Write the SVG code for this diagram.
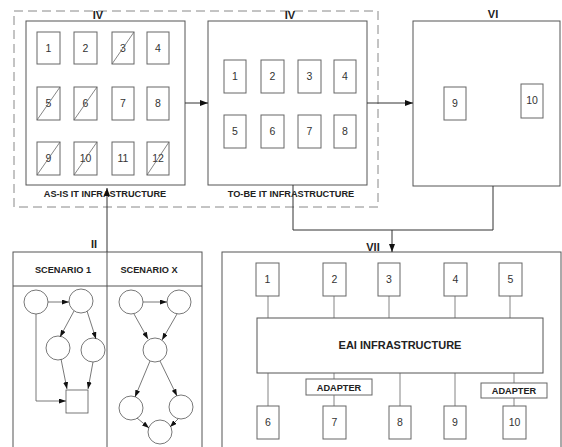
<svg xmlns="http://www.w3.org/2000/svg" width="562" height="447" viewBox="0 0 562 447">
<defs>
<marker id="ah" viewBox="0 0 8 6" refX="8" refY="3" markerWidth="8" markerHeight="6" markerUnits="userSpaceOnUse" orient="auto"><path d="M0,0 L8,3 L0,6 z" fill="#111"/></marker>
<marker id="sh" viewBox="0 0 7 5" refX="7" refY="2.5" markerWidth="7" markerHeight="5" markerUnits="userSpaceOnUse" orient="auto"><path d="M0,0 L7,2.5 L0,5 z" fill="#111"/></marker>
<style>
.big{fill:#fff;stroke:#555;stroke-width:1}
.sm{fill:#fff;stroke:#666;stroke-width:1}
.dg{stroke:#666;stroke-width:0.8}
.num{font-family:"Liberation Sans",Arial,sans-serif;font-size:10.5px;fill:#333;text-anchor:middle}
.lbl{font-family:"Liberation Sans",Arial,sans-serif;font-size:9.2px;font-weight:bold;fill:#222;text-anchor:middle}
.rom{font-family:"Liberation Sans",Arial,sans-serif;font-size:11px;font-weight:bold;fill:#222;text-anchor:middle}
.cn{fill:none;stroke:#333;stroke-width:1}
.sc{fill:none;stroke:#555;stroke-width:0.8}
.ci{fill:#fff;stroke:#555;stroke-width:0.8}
</style>
</defs>
<rect x="14" y="11" width="364" height="196" fill="none" stroke="#888" stroke-width="1" stroke-dasharray="9,5"/>

<g id="asis">
<rect class="big" x="26" y="21" width="159" height="164"/>
<text class="rom" x="98" y="19">IV</text>
<g>
<rect class="sm" x="37" y="32" width="23" height="32"/><text class="num" x="48.5" y="51.5">1</text>
<rect class="sm" x="74" y="32" width="23" height="32"/><text class="num" x="85.5" y="51.5">2</text>
<rect class="sm" x="112" y="32" width="22" height="32"/><text class="num" x="123" y="51.5">3</text><line class="dg" x1="112" y1="64" x2="134" y2="32"/>
<rect class="sm" x="147" y="32" width="22" height="32"/><text class="num" x="158" y="51.5">4</text>
<rect class="sm" x="37" y="87" width="23" height="33"/><text class="num" x="48.5" y="107">5</text><line class="dg" x1="37" y1="120" x2="60" y2="87"/>
<rect class="sm" x="74" y="87" width="23" height="33"/><text class="num" x="85.5" y="107">6</text><line class="dg" x1="74" y1="120" x2="97" y2="87"/>
<rect class="sm" x="112" y="87" width="22" height="33"/><text class="num" x="123" y="107">7</text>
<rect class="sm" x="147" y="87" width="22" height="33"/><text class="num" x="158" y="107">8</text>
<rect class="sm" x="37" y="142" width="23" height="33"/><text class="num" x="48.5" y="162">9</text><line class="dg" x1="37" y1="175" x2="60" y2="142"/>
<rect class="sm" x="74" y="142" width="23" height="33"/><text class="num" x="85.5" y="162">10</text><line class="dg" x1="74" y1="175" x2="97" y2="142"/>
<rect class="sm" x="112" y="142" width="22" height="33"/><text class="num" x="123" y="162">11</text>
<rect class="sm" x="147" y="142" width="22" height="33"/><text class="num" x="158" y="162">12</text><line class="dg" x1="147" y1="175" x2="169" y2="142"/>
</g>
<text class="lbl" x="105" y="197">AS-IS IT INFRASTRUCTURE</text>
</g>

<g id="tobe">
<rect class="big" x="208" y="21" width="159" height="164"/>
<text class="rom" x="290" y="19">IV</text>
<rect class="sm" x="224" y="60" width="22" height="33"/><text class="num" x="235" y="80">1</text>
<rect class="sm" x="261" y="60" width="23" height="33"/><text class="num" x="272.5" y="80">2</text>
<rect class="sm" x="298" y="60" width="23" height="33"/><text class="num" x="309.5" y="80">3</text>
<rect class="sm" x="334" y="60" width="22" height="33"/><text class="num" x="345" y="80">4</text>
<rect class="sm" x="224" y="115" width="22" height="33"/><text class="num" x="235" y="135">5</text>
<rect class="sm" x="261" y="115" width="23" height="33"/><text class="num" x="272.5" y="135">6</text>
<rect class="sm" x="298" y="115" width="23" height="33"/><text class="num" x="309.5" y="135">7</text>
<rect class="sm" x="334" y="115" width="22" height="33"/><text class="num" x="345" y="135">8</text>
<text class="lbl" x="291" y="197">TO-BE IT INFRASTRUCTURE</text>
</g>

<g id="vi">
<rect class="big" x="413" y="21" width="147" height="165"/>
<text class="rom" x="493" y="18">VI</text>
<rect class="sm" x="444" y="87" width="22" height="33"/><text class="num" x="455" y="107">9</text>
<rect class="sm" x="521" y="84" width="22" height="34"/><text class="num" x="532" y="104">10</text>
</g>

<g id="ii">
<rect class="big" x="13" y="252" width="189" height="200"/>
<line class="big" x1="107" y1="252" x2="107" y2="447"/>
<line class="big" x1="13" y1="286" x2="202" y2="286"/>
<text class="rom" x="94" y="248">II</text>
<text class="lbl" x="63" y="273">SCENARIO 1</text>
<text class="lbl" x="149" y="273">SCENARIO X</text>
<g id="scen1">
<circle class="ci" cx="36" cy="302" r="12"/>
<circle class="ci" cx="81" cy="301" r="12"/>
<circle class="ci" cx="58" cy="348" r="12"/>
<circle class="ci" cx="93" cy="350" r="12"/>
<rect class="ci" x="66" y="390" width="22" height="23"/>
<line class="sc" x1="48" y1="302" x2="69" y2="302" marker-end="url(#sh)"/>
<line class="sc" x1="74" y1="311" x2="60" y2="337" marker-end="url(#sh)"/>
<line class="sc" x1="87" y1="311" x2="96" y2="339" marker-end="url(#sh)"/>
<line class="sc" x1="61" y1="359" x2="67" y2="389" marker-end="url(#sh)"/>
<line class="sc" x1="93" y1="362" x2="88" y2="389" marker-end="url(#sh)"/>
<polyline class="sc" points="36,314 36,401 66,401" marker-end="url(#sh)"/>
</g>
<g id="scenx">
<circle class="ci" cx="131" cy="302" r="12"/>
<circle class="ci" cx="179" cy="302" r="12"/>
<circle class="ci" cx="155" cy="350" r="12"/>
<circle class="ci" cx="131" cy="408" r="12"/>
<circle class="ci" cx="181" cy="407" r="12"/>
<circle class="ci" cx="160" cy="432" r="12"/>
<line class="sc" x1="143" y1="302" x2="167" y2="302" marker-end="url(#sh)"/>
<line class="sc" x1="134" y1="314" x2="148" y2="339" marker-end="url(#sh)"/>
<line class="sc" x1="177" y1="314" x2="162" y2="340" marker-end="url(#sh)"/>
<line class="sc" x1="150" y1="361" x2="135" y2="397" marker-end="url(#sh)"/>
<line class="sc" x1="160" y1="361" x2="177" y2="396" marker-end="url(#sh)"/>
<line class="sc" x1="137" y1="418" x2="149" y2="428" marker-end="url(#sh)"/>
<line class="sc" x1="178" y1="419" x2="170" y2="427" marker-end="url(#sh)"/>
</g>
</g>

<g id="vii">
<rect class="big" x="222" y="252" width="339" height="200"/>
<text class="rom" x="373" y="251">VII</text>
<rect class="big" x="257" y="318" width="286" height="55"/>
<text class="rom" x="400" y="349">EAI INFRASTRUCTURE</text>
<g class="dg">
<line x1="268" y1="296" x2="268" y2="318"/>
<line x1="334" y1="296" x2="334" y2="318"/>
<line x1="389" y1="296" x2="389" y2="318"/>
<line x1="455" y1="296" x2="455" y2="318"/>
<line x1="510" y1="296" x2="510" y2="318"/>
<line x1="268" y1="373" x2="268" y2="406"/>
<line x1="334" y1="373" x2="334" y2="406"/>
<line x1="400" y1="373" x2="400" y2="406"/>
<line x1="455" y1="373" x2="455" y2="406"/>
<line x1="514" y1="373" x2="514" y2="406"/>
</g>
<rect class="sm" x="256" y="263" width="23" height="33"/><text class="num" x="267.5" y="283">1</text>
<rect class="sm" x="323" y="263" width="23" height="33"/><text class="num" x="334.5" y="283">2</text>
<rect class="sm" x="378" y="263" width="22" height="33"/><text class="num" x="389" y="283">3</text>
<rect class="sm" x="444" y="263" width="23" height="33"/><text class="num" x="455.5" y="283">4</text>
<rect class="sm" x="499" y="263" width="23" height="33"/><text class="num" x="510.5" y="283">5</text>
<rect class="sm" x="306" y="379" width="66" height="16"/><text class="lbl" x="339" y="390.5">ADAPTER</text>
<rect class="sm" x="481" y="383" width="66" height="15"/><text class="lbl" x="514" y="394">ADAPTER</text>
<rect class="sm" x="257" y="406" width="22" height="33"/><text class="num" x="268" y="426">6</text>
<rect class="sm" x="323" y="406" width="23" height="33"/><text class="num" x="334.5" y="426">7</text>
<rect class="sm" x="389" y="406" width="22" height="33"/><text class="num" x="400" y="426">8</text>
<rect class="sm" x="444" y="406" width="22" height="33"/><text class="num" x="455" y="426">9</text>
<rect class="sm" x="503" y="406" width="23" height="33"/><text class="num" x="514.5" y="426">10</text>
</g>

<g id="connectors">
<line class="cn" x1="185" y1="103" x2="208" y2="103" marker-end="url(#ah)"/>
<line class="cn" x1="367" y1="103" x2="413" y2="103" marker-end="url(#ah)"/>
<polyline class="cn" points="293,185 293,230 493,230 493,186"/>
<line class="cn" x1="392" y1="230" x2="392" y2="252" marker-end="url(#ah)"/>
<line class="cn" x1="107" y1="252" x2="107" y2="188" marker-end="url(#ah)"/>
</g>
</svg>
